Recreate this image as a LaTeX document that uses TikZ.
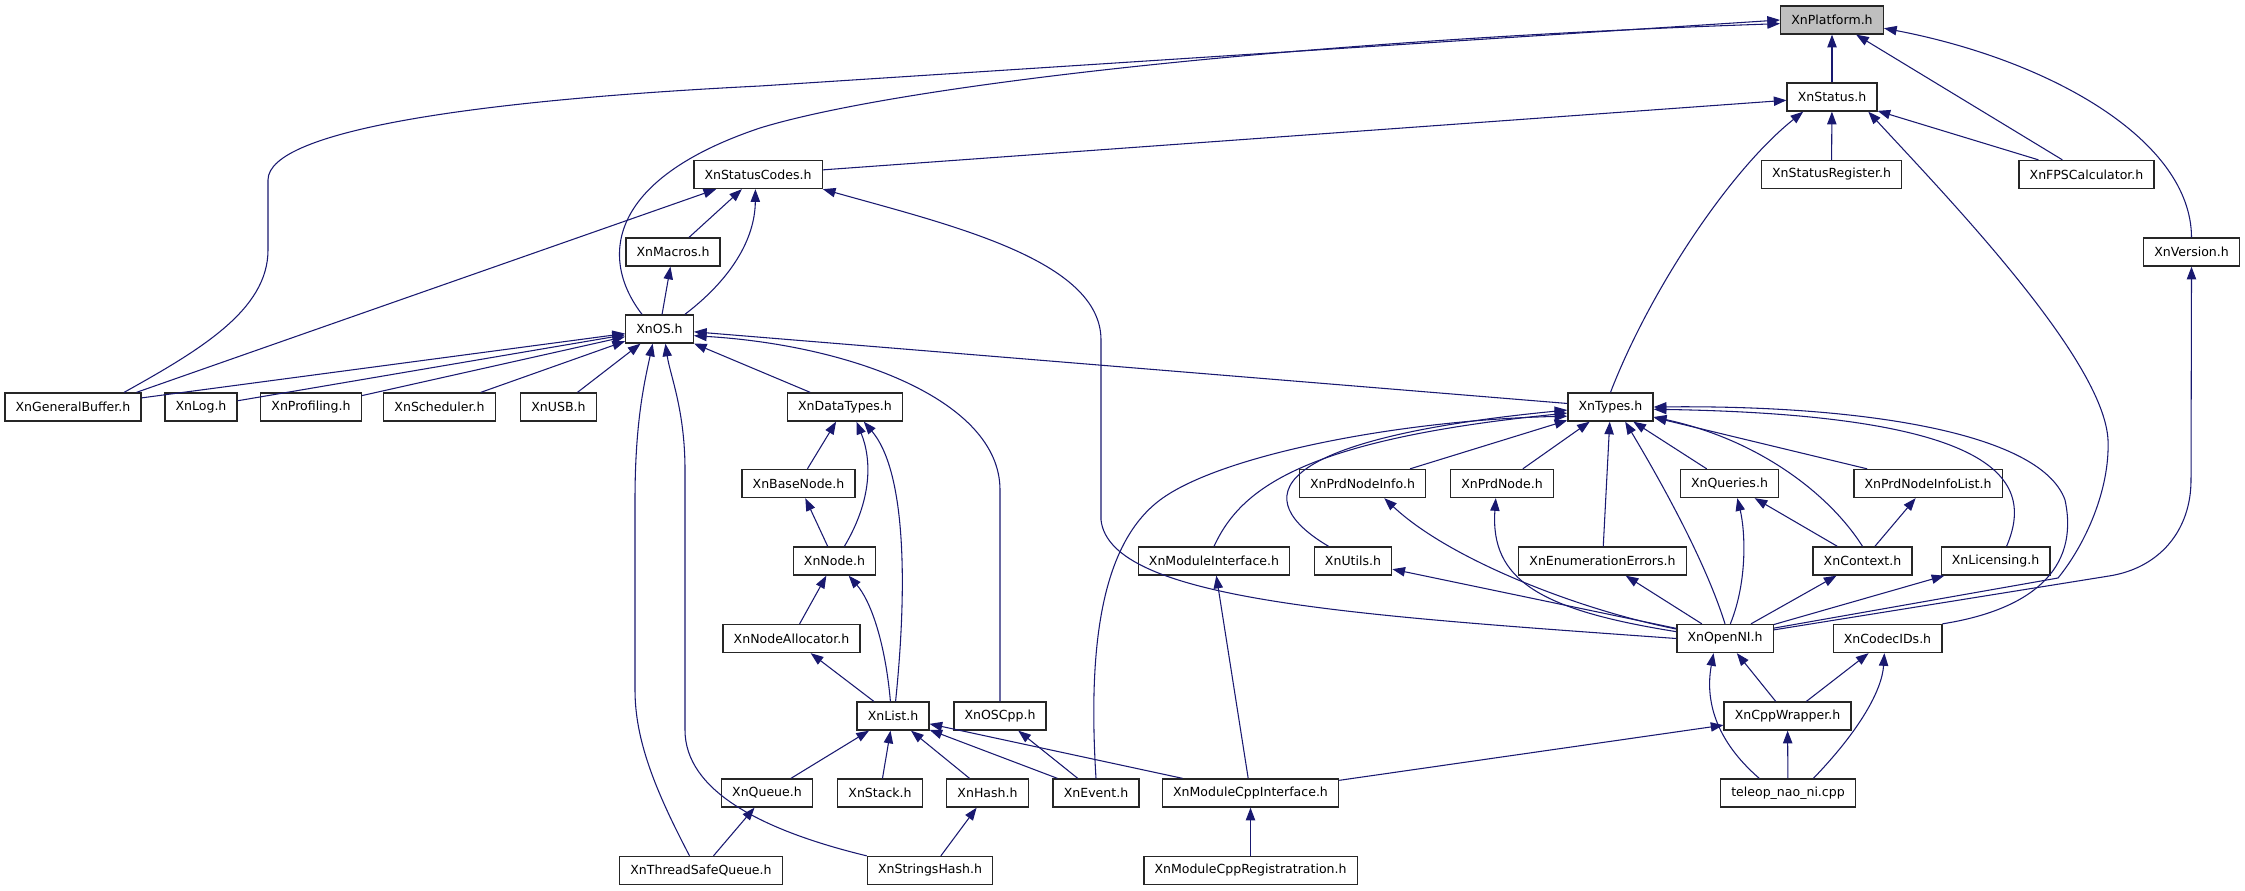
\documentclass[tikz,border=0pt]{standalone}
\usepackage{fontspec}
\setmainfont{DejaVu Sans}
\usepackage{tikz}
\usetikzlibrary{arrows.meta}
\definecolor{edgecolor}{RGB}{25,25,112}
\definecolor{currentcolor}{RGB}{191,191,191}

\begin{document}
\begin{tikzpicture}[
    x=0.75pt, y=-0.75pt,
    filenode/.style={draw=black!85, line width=1pt, fill=white, minimum height=21pt, inner xsep=8pt, inner ysep=0pt, font=\fontsize{9.4}{11}\selectfont},
    curnode/.style={filenode, fill=currentcolor},
    incl/.style={draw=edgecolor, line width=0.8pt, -{Triangle[length=9.5pt, width=7pt]}}
]
    \useasboundingbox (0,0) rectangle (2245,891);

    % Header files, row by row
    \node[curnode] (platform) at (1832,20) {XnPlatform.h};
    \node[filenode] (status) at (1832,97) {XnStatus.h};
    \node[filenode] (codes) at (758,174.5) {XnStatusCodes.h};
    \node[filenode] (statusreg) at (1831.5,174.5) {XnStatusRegister.h};
    \node[filenode] (fps) at (2086.5,174.5) {XnFPSCalculator.h};
    \node[filenode] (macros) at (673,252) {XnMacros.h};
    \node[filenode] (version) at (2191.5,252) {XnVersion.h};
    \node[filenode] (os) at (659.5,329) {XnOS.h};
    \node[filenode] (genbuf) at (73,407) {XnGeneralBuffer.h};
    \node[filenode] (log) at (201,407) {XnLog.h};
    \node[filenode] (prof) at (311,407) {XnProfiling.h};
    \node[filenode] (sched) at (439.5,407) {XnScheduler.h};
    \node[filenode] (usb) at (558.5,407) {XnUSB.h};
    \node[filenode] (datatypes) at (845,407) {XnDataTypes.h};
    \node[filenode] (types) at (1610.5,407) {XnTypes.h};
    \node[filenode] (basenode) at (798.5,483.5) {XnBaseNode.h};
    \node[filenode] (prdinfo) at (1362.5,483.5) {XnPrdNodeInfo.h};
    \node[filenode] (prdnode) at (1502,483.5) {XnPrdNode.h};
    \node[filenode] (queries) at (1729.5,483.5) {XnQueries.h};
    \node[filenode] (prdinfolist) at (1928,483.5) {XnPrdNodeInfoList.h};
    \node[filenode] (xnnode) at (834.5,561) {XnNode.h};
    \node[filenode] (modiface) at (1214,561) {XnModuleInterface.h};
    \node[filenode] (utils) at (1353,561) {XnUtils.h};
    \node[filenode] (enumerr) at (1602.5,561) {XnEnumerationErrors.h};
    \node[filenode] (context) at (1862.5,561) {XnContext.h};
    \node[filenode] (licensing) at (1995.5,561) {XnLicensing.h};
    \node[filenode] (nodealloc) at (791.5,638.5) {XnNodeAllocator.h};
    \node[filenode] (openni) at (1725,638.5) {XnOpenNI.h};
    \node[filenode] (codec) at (1887.5,638.5) {XnCodecIDs.h};
    \node[filenode] (list) at (893,716) {XnList.h};
    \node[filenode] (oscpp) at (1000,716) {XnOSCpp.h};
    \node[filenode] (cppwrap) at (1787.5,716) {XnCppWrapper.h};
    \node[filenode] (queue) at (767,793) {XnQueue.h};
    \node[filenode] (stack) at (880,793) {XnStack.h};
    \node[filenode] (hash) at (987.5,793) {XnHash.h};
    \node[filenode] (event) at (1096,793) {XnEvent.h};
    \node[filenode] (modcpp) at (1250.5,793) {XnModuleCppInterface.h};
    \node[filenode] (teleop) at (1788,793) {teleop\_nao\_ni.cpp};
    \node[filenode] (tsqueue) at (701,870.5) {XnThreadSafeQueue.h};
    \node[filenode] (strhash) at (930,870.5) {XnStringsHash.h};
    \node[filenode] (modreg) at (1250.5,870.5) {XnModuleCppRegistratration.h};

    % XnPlatform.h
    \draw[incl] (status) -- (platform);
    \draw[incl] (fps) -- (platform);
    \draw[incl] (version.north) .. controls (2191,140) and (2050,60) .. (platform.-9);
    \draw[incl] (os.140) .. controls (600,260) and (605,180) .. (760,128) .. controls (900,85) and (1300,40) .. (platform.-176);
    \draw[incl] (genbuf.16) .. controls (200,350) and (268,310) .. (268,250) -- (268,180) .. controls (268,130) and (480,100) .. (760,86) -- (platform.west);

    % XnStatus.h
    \draw[incl] (codes) -- (status);
    \draw[incl] (statusreg) -- (status);
    \draw[incl] (fps) -- (status);
    \draw[incl] (types.north) .. controls (1650,290) and (1730,170) .. (status.-153);
    \draw[incl] (openni.12) -- (2058,578) .. controls (2085,545) and (2110,490) .. (2108,440) .. controls (2104,360) and (1950,200) .. (status.-22);

    % XnStatusCodes.h and XnMacros.h
    \draw[incl] (genbuf.13) -- (codes);
    \draw[incl] (macros) -- (codes);
    \draw[incl] (os.30) .. controls (730,280) and (755,240) .. (codes.-100);
    \draw[incl] (openni.west) .. controls (1350,615) and (1110,600) .. (1101,520) -- (1101,340) .. controls (1101,260) and (950,225) .. (codes.south east);
    \draw[incl] (os) -- (macros);

    % XnOS.h
    \draw[incl] (genbuf) -- (os);
    \draw[incl] (log) -- (os);
    \draw[incl] (prof) -- (os);
    \draw[incl] (sched) -- (os);
    \draw[incl] (usb) -- (os);
    \draw[incl] (datatypes) -- (os);
    \draw[incl] (types) -- (os);
    \draw[incl] (oscpp.north) -- (1000,490) .. controls (1000,400) and (850,345) .. (os.-11);
    \draw[incl] (tsqueue.128) .. controls (655,790) and (635,740) .. (635,690) -- (635,500) .. controls (635,420) and (645,380) .. (os.-115);
    \draw[incl] (strhash.north west) .. controls (760,830) and (685,790) .. (685,730) -- (685,470) .. controls (685,410) and (670,375) .. (os.-68);

    % Containers
    \draw[incl] (basenode) -- (datatypes);
    \draw[incl] (xnnode.56) .. controls (872,500) and (872,460) .. (datatypes.-52);
    \draw[incl] (list.80) .. controls (908,580) and (905,470) .. (datatypes.-38);
    \draw[incl] (xnnode) -- (basenode);
    \draw[incl] (nodealloc) -- (xnnode);
    \draw[incl] (list.100) .. controls (885,640) and (870,600) .. (xnnode.-46);
    \draw[incl] (list) -- (nodealloc);
    \draw[incl] (queue) -- (list);
    \draw[incl] (stack) -- (list);
    \draw[incl] (hash) -- (list);
    \draw[incl] (event) -- (list);
    \draw[incl] (modcpp) -- (list);
    \draw[incl] (event) -- (oscpp);
    \draw[incl] (tsqueue) -- (queue);
    \draw[incl] (strhash) -- (hash);
    \draw[incl] (modreg) -- (modcpp);
    \draw[incl] (modcpp) -- (modiface);
    \draw[incl] (modcpp) -- (cppwrap);

    % XnTypes.h
    \draw[incl] (event.north) .. controls (1088,650) and (1100,545) .. (1160,500) .. controls (1220,455) and (1400,420) .. (types.-168);
    \draw[incl] (modiface.north) .. controls (1240,490) and (1300,440) .. (types.-172);
    \draw[incl] (utils.149) .. controls (1250,500) and (1260,440) .. (types.-176);
    \draw[incl] (prdinfo) -- (types);
    \draw[incl] (prdnode) -- (types);
    \draw[incl] (enumerr) -- (types);
    \draw[incl] (openni.north) .. controls (1705,560) and (1660,480) .. (types.-45);
    \draw[incl] (queries) -- (types);
    \draw[incl] (context.north) .. controls (1830,495) and (1760,440) .. (types.-13);
    \draw[incl] (prdinfolist) -- (types);
    \draw[incl] (licensing.53) .. controls (2035,480) and (2000,415) .. (types.-3);
    \draw[incl] (codec.north east) .. controls (2030,610) and (2080,570) .. (2065,500) .. controls (2040,430) and (1850,405) .. (types.east);

    % XnOpenNI.h
    \draw[incl] (openni.169) .. controls (1580,610) and (1450,560) .. (prdinfo.-34);
    \draw[incl] (openni.172) .. controls (1540,610) and (1490,580) .. (prdnode.-113);
    \draw[incl] (openni) -- (utils);
    \draw[incl] (openni) -- (enumerr);
    \draw[incl] (openni.70) .. controls (1748,580) and (1745,530) .. (queries.-62);
    \draw[incl] (context) -- (queries);
    \draw[incl] (context) -- (prdinfolist);
    \draw[incl] (openni) -- (context);
    \draw[incl] (openni) -- (licensing);
    \draw[incl] (openni.10) -- (2109,576) .. controls (2160,568) and (2191,530) .. (2191,480) -- (version.south);

    % Wrapper and sample
    \draw[incl] (cppwrap) -- (openni);
    \draw[incl] (cppwrap) -- (codec);
    \draw[incl] (teleop) -- (cppwrap);
    \draw[incl] (teleop.153) .. controls (1715,740) and (1705,700) .. (openni.-128);
    \draw[incl] (teleop.30) .. controls (1860,730) and (1882,690) .. (codec.-102);
\end{tikzpicture}
\end{document}
